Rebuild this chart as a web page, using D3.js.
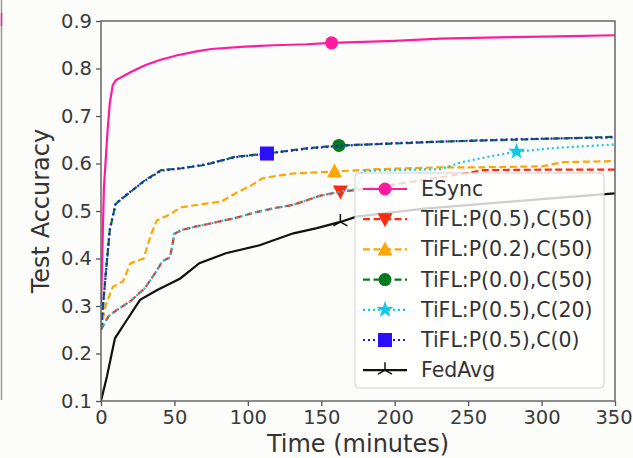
<!DOCTYPE html>
<html lang="en">
	<head>
		<meta charset="utf-8">
		<title>Test Accuracy vs Time</title>
		<script type="text/javascript" src="https://cdn.jsdelivr.net/npm/d3@7"></script>
		<style type="text/css">
			body { margin: 0; background: #fcfcfa; }
			svg { display: block; font-family: "DejaVu Sans", sans-serif; }
		</style>
	</head>
	<body>
		<script type="text/javascript">

			//Width and height
			var w = 633;
			var h = 458;

			//Data: [time (minutes), test accuracy]
			var esync = [[0,0.30],[2,0.55],[4.5,0.67],[6,0.727],[8,0.765],[10,0.775],[20,0.792],[30,0.807],[40,0.818],[52,0.828],[65,0.836],[75,0.841],[98,0.846],[118,0.849],[140,0.851],[157,0.854],[200,0.858],[231,0.863],[280,0.866],[320,0.868],[350,0.870]];
			var tiflP05C50 = [[0,0.25],[5,0.278],[10,0.29],[20,0.31],[30,0.338],[37,0.37],[42,0.395],[47,0.402],[50,0.452],[55,0.46],[64,0.467],[75,0.474],[91,0.485],[105,0.497],[118,0.506],[131,0.513],[149,0.532],[163,0.541],[174,0.544],[200,0.556],[225,0.568],[250,0.58],[260,0.586],[300,0.587],[350,0.587]];
			var tiflP02C50 = [[0,0.25],[3,0.30],[8,0.34],[15,0.352],[20,0.39],[29,0.40],[34,0.45],[38,0.48],[45,0.49],[55,0.508],[70,0.515],[82,0.52],[92,0.538],[103,0.555],[110,0.569],[131,0.579],[159,0.583],[188,0.588],[231,0.592],[260,0.592],[300,0.594],[315,0.603],[350,0.605]];
			var tiflP00C50 = [[0,0.25],[3,0.36],[6,0.46],[10,0.515],[18,0.535],[30,0.565],[41,0.586],[55,0.59],[71,0.597],[91,0.614],[113,0.621],[140,0.632],[162,0.638],[200,0.642],[231,0.646],[280,0.650],[350,0.656]];
			var tiflP05C20 = [[0,0.25],[5,0.278],[10,0.29],[20,0.31],[30,0.338],[37,0.37],[42,0.395],[47,0.402],[50,0.452],[55,0.46],[64,0.467],[75,0.474],[91,0.485],[105,0.497],[118,0.506],[131,0.513],[149,0.532],[163,0.541],[174,0.546],[178,0.584],[192,0.586],[231,0.588],[246,0.603],[265,0.615],[283,0.625],[310,0.633],[350,0.640]];
			var tiflP05C0 = [[0,0.25],[3,0.36],[6,0.462],[10,0.516],[18,0.536],[30,0.564],[41,0.585],[55,0.59],[71,0.598],[91,0.613],[113,0.621],[140,0.631],[162,0.637],[200,0.643],[231,0.646],[280,0.651],[350,0.655]];
			var fedavg = [[0,0.10],[4,0.151],[9.5,0.232],[17.5,0.27],[26.6,0.313],[38,0.333],[54,0.358],[67,0.39],[85,0.411],[108,0.428],[131,0.453],[147,0.464],[163,0.477],[174,0.488],[220,0.505],[260,0.515],[300,0.525],[350,0.537]];

			var seriesNames = ["ESync", "TiFL:P(0.5),C(50)", "TiFL:P(0.2),C(50)", "TiFL:P(0.0),C(50)", "TiFL:P(0.5),C(20)", "TiFL:P(0.5),C(0)", "FedAvg"];
			var markerTimes = [157, 163, 159, 162, 283, 113, 163];
			var xTicks = [0, 50, 100, 150, 200, 250, 300, 350];
			var yTicks = [0.1, 0.2, 0.3, 0.4, 0.5, 0.6, 0.7, 0.8, 0.9];

			var series = [
				{ name: seriesNames[0], data: esync,      color: "#ff1aa0", dash: null,    marker: "circle" },
				{ name: seriesNames[1], data: tiflP05C50, color: "#ff2a10", dash: "7,3.5", marker: "tridown" },
				{ name: seriesNames[2], data: tiflP02C50, color: "#ffa500", dash: "7,3.5", marker: "triup" },
				{ name: seriesNames[3], data: tiflP00C50, color: "#007a1f", dash: "7,3.5", marker: "circle" },
				{ name: seriesNames[4], data: tiflP05C20, color: "#10c8e8", dash: "2,3",   marker: "star" },
				{ name: seriesNames[5], data: tiflP05C0,  color: "#2a10ff", dash: "2,3",   marker: "square" },
				{ name: seriesNames[6], data: fedavg,     color: "#111111", dash: null,    marker: "tri" }
			];
			series.forEach(function(s, i) { s.mt = markerTimes[i]; });

			var xScale = d3.scaleLinear().domain([0, 350]).range([101, 615]);
			var yScale = d3.scaleLinear().domain([0.1, 0.9]).range([401, 21]);

			var svg = d3.select("body")
						.append("svg")
						.attr("width", w)
						.attr("height", h);

			svg.append("rect").attr("width", w).attr("height", h).attr("fill", "#fcfcfa");

			//cropped edge of the neighbouring figure
			svg.append("line").attr("x1", 1.5).attr("x2", 1.5).attr("y1", 0).attr("y2", 400)
				.attr("stroke", "#999").attr("stroke-width", 1.5);
			svg.append("line").attr("x1", 1.5).attr("x2", 1.5).attr("y1", 13).attr("y2", 26)
				.attr("stroke", "#ff1aa0").attr("stroke-width", 1.5);

			//Axes
			var xAxis = d3.axisBottom(xScale).tickValues(xTicks).tickSize(5).tickPadding(4)
							.tickFormat(d3.format("d"));
			var yAxis = d3.axisLeft(yScale).tickValues(yTicks).tickSize(5).tickPadding(4)
							.tickFormat(d3.format(".1f"));

			var gx = svg.append("g").attr("transform", "translate(0,401)").call(xAxis);
			var gy = svg.append("g").attr("transform", "translate(101,0)").call(yAxis);
			[gx, gy].forEach(function(g) {
				g.select(".domain").remove();
				g.selectAll(".tick line").attr("stroke", "#555").attr("stroke-width", 1.3);
				g.selectAll(".tick text").attr("fill", "#3a3a3a").attr("font-size", "19.5px")
					.attr("font-family", "DejaVu Sans, sans-serif");
			});
			//keep the last x label inside the window
			gx.selectAll(".tick text").filter(function(d) { return d === 350; }).attr("dx", -1.5);

			//Lines
			var line = d3.line()
						.x(function(d) { return xScale(d[0]); })
						.y(function(d) { return yScale(d[1]); });

			svg.append("clipPath").attr("id", "plot").append("rect")
				.attr("x", 101).attr("y", 21).attr("width", 514).attr("height", 380);

			var plot = svg.append("g").attr("clip-path", "url(#plot)");

			function valueAt(data, t) {
				for (var i = 1; i < data.length; i++) {
					if (data[i][0] >= t) {
						var a = data[i - 1], b = data[i];
						return a[1] + (b[1] - a[1]) * (t - a[0]) / (b[0] - a[0]);
					}
				}
				return data[data.length - 1][1];
			}

			function drawMarker(g, type, x, y, color) {
				if (type === "circle") {
					g.append("circle").attr("cx", x).attr("cy", y).attr("r", 6.5).attr("fill", color);
				} else if (type === "square") {
					g.append("rect").attr("x", x - 7).attr("y", y - 7).attr("width", 14).attr("height", 14).attr("fill", color);
				} else if (type === "triup") {
					g.append("path").attr("d", "M" + x + "," + (y - 8) + "L" + (x + 7.5) + "," + (y + 6) + "L" + (x - 7.5) + "," + (y + 6) + "Z").attr("fill", color);
				} else if (type === "tridown") {
					g.append("path").attr("d", "M" + x + "," + (y + 8) + "L" + (x + 7.5) + "," + (y - 6) + "L" + (x - 7.5) + "," + (y - 6) + "Z").attr("fill", color);
				} else if (type === "star") {
					g.append("path").attr("d", d3.symbol().type(d3.symbolStar).size(90)()).attr("transform", "translate(" + x + "," + y + ")").attr("fill", color);
				} else if (type === "tri") {
					g.append("path").attr("d", "M" + x + "," + y + "L" + x + "," + (y - 8) + "M" + x + "," + y + "L" + (x + 7) + "," + (y + 4) + "M" + x + "," + y + "L" + (x - 7) + "," + (y + 4))
						.attr("stroke", color).attr("stroke-width", 1.5).attr("fill", "none");
				}
			}

			series.forEach(function(s) {
				plot.append("path")
					.datum(s.data)
					.attr("d", line)
					.attr("fill", "none")
					.attr("stroke", s.color)
					.attr("stroke-width", 2.2)
					.attr("stroke-dasharray", s.dash);
				drawMarker(plot, s.marker, xScale(s.mt), yScale(valueAt(s.data, s.mt)), s.color);
			});

			//Frame
			svg.append("rect").attr("x", 101).attr("y", 21).attr("width", 514).attr("height", 380)
				.attr("fill", "none").attr("stroke", "#666").attr("stroke-width", 1.5);

			//Legend
			var legend = svg.append("g");
			legend.append("rect").attr("x", 355).attr("y", 173).attr("width", 249).attr("height", 215)
				.attr("rx", 4).attr("fill", "#ffffff").attr("fill-opacity", 0.8)
				.attr("stroke", "#d0d0d0").attr("stroke-width", 1);

			series.forEach(function(s, i) {
				var ly = 189 + i * 30.2;
				legend.append("line").attr("x1", 363).attr("x2", 407).attr("y1", ly).attr("y2", ly)
					.attr("stroke", s.color).attr("stroke-width", 2.2).attr("stroke-dasharray", s.dash);
				drawMarker(legend, s.marker, 385, ly, s.color);
				legend.append("text").attr("x", 421).attr("y", ly + 7).text(s.name)
					.attr("font-size", "20.5px").attr("fill", "#333");
			});

			//Axis labels
			svg.append("text").attr("x", 358).attr("y", 452).attr("text-anchor", "middle")
				.attr("font-size", "24px").attr("fill", "#333").text("Time (minutes)");
			svg.append("text").attr("transform", "translate(49,211) rotate(-90)").attr("text-anchor", "middle")
				.attr("font-size", "24px").attr("fill", "#333").text("Test Accuracy");

		</script>
	</body>
</html>
